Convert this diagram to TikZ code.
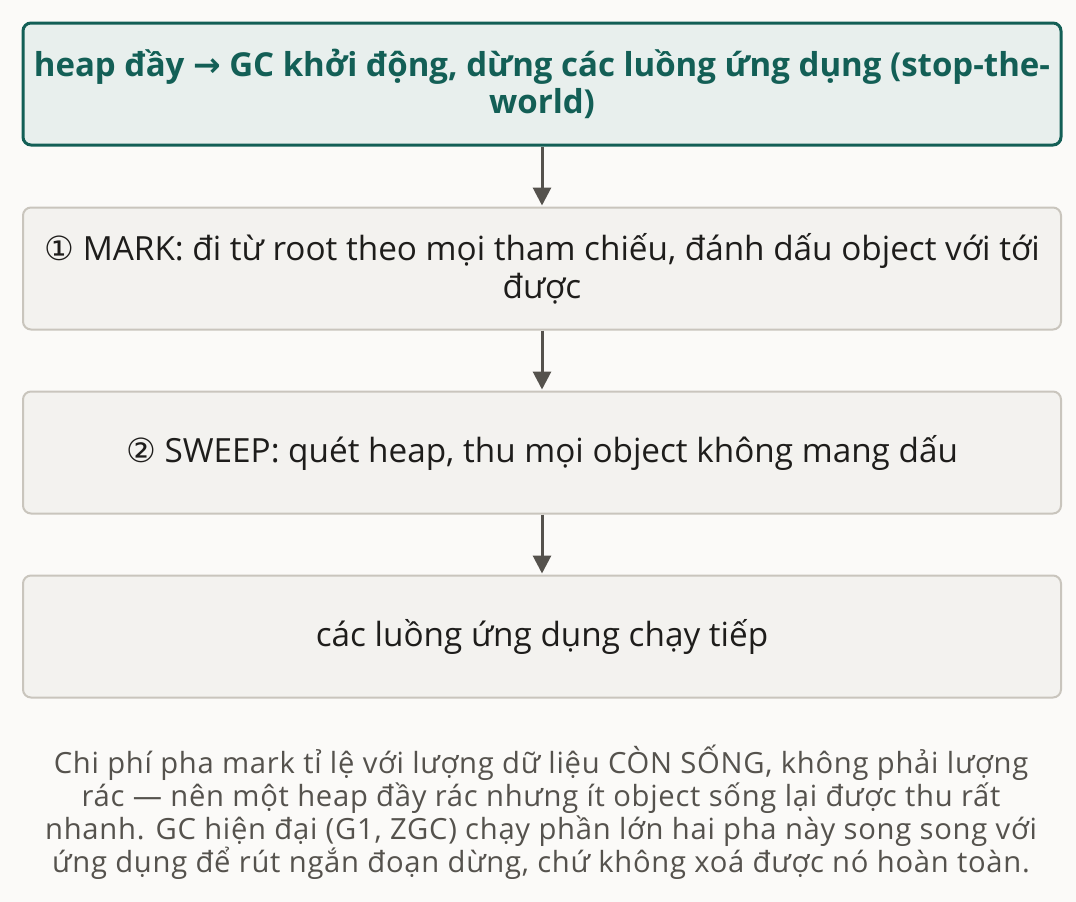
\documentclass[tikz,border=0pt]{standalone}
\usepackage{fontspec}
\setmainfont{Open Sans}
\newfontfamily\symf{DejaVu Sans}
\usetikzlibrary{arrows.meta}
\definecolor{bgc}{HTML}{FBFAF8}
\definecolor{teal}{HTML}{135F56}
\definecolor{tealfill}{HTML}{E8EFED}
\definecolor{grayline}{HTML}{C9C5BD}
\definecolor{grayfill}{HTML}{F3F2EF}
\definecolor{ink}{HTML}{1E1D1B}
\definecolor{arrowc}{HTML}{55524D}
\definecolor{capc}{HTML}{55524D}
\tikzset{
  headbox/.style={draw=teal, line width=3pt, fill=tealfill, rounded corners=8pt,
    minimum width=1038pt, minimum height=122pt, align=center, text=teal,
    font=\fontsize{33}{37}\selectfont\bfseries, inner sep=0pt},
  stepbox/.style={draw=grayline, line width=2pt, fill=grayfill, rounded corners=8pt,
    minimum width=1038pt, minimum height=122pt, align=center, text=ink,
    font=\fontsize{33.3}{38}\selectfont, inner sep=0pt},
  conn/.style={draw=arrowc, line width=3pt, -{Triangle[length=18pt,width=18pt]}, shorten >=1pt},
  capt/.style={align=center, text=capc, font=\fontsize{29.2}{33}\selectfont\addfontfeature{LetterSpace=2.5}, inner sep=0pt}
}
\begin{document}
\begin{tikzpicture}[x=1pt,y=-1pt]
\fill[bgc] (0,0) rectangle (1076,902);
\useasboundingbox (0,0) rectangle (1076,902);
\node[headbox] (h) at (542,84) {heap đầy {\symf →} GC khởi động, dừng các luồng ứng dụng (stop-the-\\world)};
\node[stepbox] (m) at (542,268.5) {{\symf ①} MARK: đi từ root theo mọi tham chiếu, đánh dấu object với tới\\được};
\node[stepbox] (s) at (542,452.5) {{\symf ②} SWEEP: quét heap, thu mọi object không mang dấu};
\node[stepbox] (r) at (542,636.5) {các luồng ứng dụng chạy tiếp};
\draw[conn] (h) -- (m);
\draw[conn] (m) -- (s);
\draw[conn] (s) -- (r);
\node[capt] (c) at (541,812) {Chi phí pha mark tỉ lệ với lượng dữ liệu CÒN SỐNG, không phải lượng\\rác — nên một heap đầy rác nhưng ít object sống lại được thu rất\\nhanh. GC hiện đại (G1, ZGC) chạy phần lớn hai pha này song song với\\ứng dụng để rút ngắn đoạn dừng, chứ không xoá được nó hoàn toàn.};
\end{tikzpicture}
\end{document}
